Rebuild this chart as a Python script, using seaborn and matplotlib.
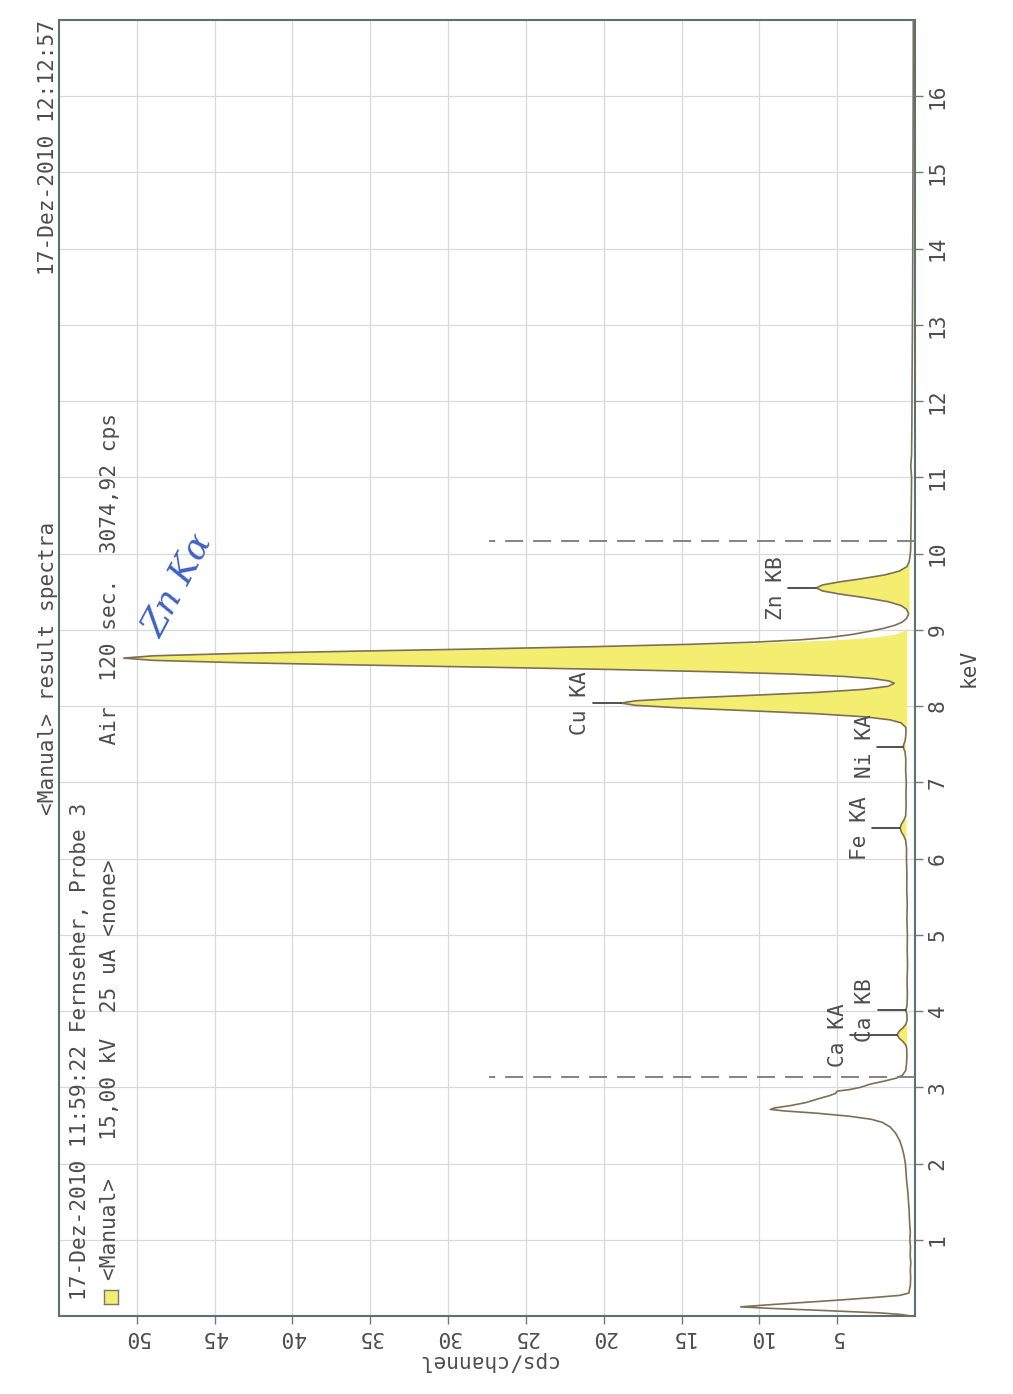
import numpy as np
import pandas as pd
import matplotlib
matplotlib.use("Agg")
import matplotlib.pyplot as plt
import seaborn as sns

# ---------------- data ----------------
# measured spectrum: energy (keV) and count rate (cps/channel)
spectrum_kev = [
    0.00, 0.02, 0.04, 0.07, 0.10, 0.12, 0.15, 0.18, 0.21, 0.24, 0.27, 0.30,
    0.40, 0.50, 0.60, 0.70, 0.80, 0.90, 1.00, 1.10, 1.20, 1.30, 1.40, 1.50,
    1.60, 1.70, 1.80, 1.90, 2.00, 2.10, 2.20, 2.30, 2.40, 2.48, 2.54, 2.58,
    2.62, 2.66, 2.69, 2.71, 2.73, 2.76, 2.80, 2.85, 2.89, 2.92, 2.95, 2.97,
    3.00, 3.04, 3.08, 3.12, 3.16, 3.22, 3.30, 3.40, 3.50, 3.55, 3.60, 3.64,
    3.69, 3.74, 3.78, 3.83, 3.88, 3.96, 4.01, 4.06, 4.20, 4.40, 4.60, 4.80,
    5.00, 5.20, 5.40, 5.60, 5.80, 6.00, 6.12, 6.24, 6.30, 6.35, 6.40, 6.45,
    6.50, 6.56, 6.70, 6.85, 7.00, 7.15, 7.30, 7.40, 7.44, 7.47, 7.50, 7.54,
    7.60, 7.66, 7.72, 7.78, 7.82, 7.86, 7.90, 7.94, 7.98, 8.01, 8.04, 8.07,
    8.10, 8.14, 8.18, 8.22, 8.26, 8.30, 8.33, 8.36, 8.39, 8.42, 8.45, 8.48,
    8.51, 8.54, 8.57, 8.60, 8.63, 8.66, 8.69, 8.72, 8.75, 8.78, 8.81, 8.84,
    8.87, 8.90, 8.94, 8.98, 9.02, 9.06, 9.10, 9.15, 9.21, 9.27, 9.32, 9.37,
    9.42, 9.47, 9.51, 9.55, 9.59, 9.63, 9.67, 9.72, 9.77, 9.83, 9.89, 9.95,
    10.05, 10.30, 10.60, 11.00, 11.15, 11.30, 11.70, 12.20, 12.80, 13.50,
    14.20, 15.00, 15.80, 16.50, 17.00,
]
spectrum_cps = [
    0.30, 0.90, 2.20, 5.60, 9.30, 11.20, 9.20, 7.00, 4.80, 2.80, 1.00, 0.40,
    0.30, 0.28, 0.30, 0.27, 0.31, 0.29, 0.33, 0.30, 0.34, 0.36, 0.38, 0.42,
    0.45, 0.50, 0.55, 0.58, 0.62, 0.70, 0.82, 0.98, 1.25, 1.60, 2.10, 2.80,
    4.20, 6.30, 8.40, 9.30, 9.00, 8.00, 7.00, 6.20, 5.50, 5.10, 5.00, 4.20,
    3.50, 2.90, 2.00, 1.20, 0.80, 0.60, 0.55, 0.52, 0.53, 0.58, 0.77, 1.00,
    1.15, 1.00, 0.77, 0.58, 0.51, 0.52, 0.60, 0.52, 0.49, 0.51, 0.48, 0.50,
    0.49, 0.52, 0.50, 0.53, 0.52, 0.55, 0.54, 0.60, 0.73, 0.88, 0.95, 0.88,
    0.73, 0.60, 0.57, 0.58, 0.56, 0.60, 0.59, 0.64, 0.72, 0.75, 0.72, 0.64,
    0.60, 0.58, 0.59, 0.89, 1.60, 3.25, 6.31, 10.71, 15.38, 17.95, 18.90, 17.95,
    15.38, 10.71, 6.31, 3.28, 1.73, 1.33, 1.67, 2.67, 4.62, 7.88, 12.77, 19.37,
    27.37, 35.86, 43.53, 48.92, 50.85, 48.94, 43.68, 36.21, 28.02, 20.64, 14.58, 10.20,
    7.34, 5.53, 4.03, 2.96, 2.02, 1.30, 0.84, 0.54, 0.41, 0.54, 0.90, 1.73,
    3.14, 4.84, 5.93, 6.35, 5.93, 4.84, 3.47, 1.97, 1.02, 0.52, 0.38, 0.33,
    0.28, 0.26, 0.24, 0.22, 0.27, 0.22, 0.20, 0.19, 0.17, 0.15,
    0.14, 0.13, 0.12, 0.11, 0.11,
]

# fitted element peaks (filled area) and the background they sit on
fit_kev = [
    3.46, 3.50, 3.55, 3.60, 3.64, 3.69, 3.74, 3.78, 3.83, 3.88, 3.92,
    6.20, 6.24, 6.30, 6.35, 6.40, 6.45, 6.50, 6.56, 6.60,
    7.37, 7.40, 7.44, 7.47, 7.50, 7.54, 7.57,
    7.66, 7.72, 7.78, 7.82, 7.86, 7.90, 7.94, 7.98, 8.01, 8.04, 8.07, 8.10,
    8.14, 8.18, 8.22, 8.26, 8.30, 8.33, 8.36, 8.39, 8.42, 8.45, 8.48, 8.51,
    8.54, 8.57, 8.60, 8.63, 8.66, 8.69, 8.72, 8.75, 8.78, 8.81, 8.84, 8.87,
    8.90, 8.94, 8.98, 9.02, 9.06,
    9.15, 9.21, 9.27, 9.32, 9.37, 9.42, 9.47, 9.51, 9.55, 9.59, 9.63, 9.67,
    9.72, 9.77, 9.83, 9.89, 9.95,
]
fit_cps = [
    0.50, 0.51, 0.58, 0.77, 1.00, 1.15, 1.00, 0.77, 0.58, 0.51, 0.50,
    0.55, 0.60, 0.73, 0.88, 0.95, 0.88, 0.73, 0.60, 0.55,
    0.60, 0.64, 0.72, 0.75, 0.72, 0.64, 0.60,
    0.50, 0.59, 0.89, 1.60, 3.25, 6.31, 10.71, 15.38, 17.95, 18.90, 17.95, 15.38,
    10.71, 6.31, 3.28, 1.73, 1.33, 1.67, 2.67, 4.62, 7.88, 12.77, 19.37, 27.37,
    35.86, 43.53, 48.92, 50.85, 48.82, 43.43, 35.76, 27.27, 19.27, 12.67, 7.78, 4.52,
    2.53, 1.21, 0.69, 0.52, 0.50,
    0.35, 0.38, 0.52, 0.90, 1.73, 3.14, 4.84, 5.93, 6.35, 5.93, 4.84, 3.47,
    1.97, 1.02, 0.52, 0.38, 0.35,
]
fit_base = (
    [0.50] * 11 + [0.55] * 9 + [0.60] * 7 + [0.50] * 41 + [0.35] * 17
)

# identified lines
peak_names = ["Ca KA", "Ca KB", "Fe KA", "Ni KA", "Cu KA", "Zn KB"]
peak_kev = [3.69, 4.01, 6.40, 7.47, 8.04, 9.55]
peak_cps = [1.15, 0.60, 0.95, 0.75, 18.90, 6.35]

# region of interest limits (keV) and their drawn height (cps)
roi_kev = [3.13, 10.16]
roi_height = 27.4

cps_ticks = [5, 10, 15, 20, 25, 30, 35, 40, 45, 50]
kev_ticks = list(range(1, 17))

header_date = "17-Dez-2010 12:12:57"
header_title = "<Manual> result spectra"
info_line1 = "17-Dez-2010 11:59:22 Fernseher, Probe 3"
info_line2 = "<Manual>   15,00 kV  25 uA <none>         Air  120 sec.  3074,92 cps"

# ---------------- style ----------------
sns.set_theme(style="white")
plt.rcParams["font.family"] = ["DejaVu Sans Mono", "DejaVu Sans"]
TXT = "#4d4d4d"
FONT = 15.2

W, H = 1013, 1394
fig = plt.figure(figsize=(W / 100, H / 100), dpi=100)
fig.patch.set_facecolor("white")

# axes box in pixels: left 59, right 915, top 20, bottom 1316
l, r, t, b = 59, 915, 20, 1316
ax = fig.add_axes([l / W, 1 - b / H, (r - l) / W, (b - t) / H])
ax.set_facecolor("white")

# the spectrum is laid out sideways: energy runs upward, counts grow leftward
ax.set_xlim(55.0, 0.0)
ax.set_ylim(0.0, 17.0)

ax.set_xticks(cps_ticks)
ax.set_yticks(kev_ticks)
ax.grid(True, color="#d9d9d9", lw=0.9, zorder=0)
ax.set_axisbelow(True)

# filled fit peaks
ax.fill_betweenx(fit_kev, fit_base, fit_cps,
                 where=[c > bb + 1e-6 for c, bb in zip(fit_cps, fit_base)],
                 interpolate=True, color="#f4ee70", lw=0, zorder=2)

# measured spectrum
spec = pd.DataFrame({"kev": spectrum_kev, "cps": spectrum_cps})
sns.lineplot(data=spec, x="cps", y="kev", orient="y", sort=False,
             estimator=None, color="#7d6f55", lw=1.2, ax=ax, zorder=3)

# ROI limits
for e in roi_kev:
    ax.plot([0, roi_height], [e, e], color="#7a7a7a", lw=1.3,
            linestyle=(0, (10, 5.5)), zorder=3)

# peak markers and labels
reach = [3.0, 1.8, 1.8, 1.7, 1.8, 1.8]
for name, e, c, rch in zip(peak_names, peak_kev, peak_cps, reach):
    ax.plot([c, c + rch], [e, e], color="#333333", lw=1.2, zorder=4)
    ax.text(c + rch + 0.15, e, name, rotation=90, ha="right", va="center",
            color=TXT, fontsize=FONT, zorder=5)

# frame and ticks
for sp in ax.spines.values():
    sp.set_color("#5d7073")
    sp.set_linewidth(1.5)
ax.yaxis.tick_right()
ax.yaxis.set_label_position("right")
ax.tick_params(axis="x", bottom=True, length=6, width=1, color="#777777",
               labelsize=FONT, labelcolor=TXT, labelrotation=180, pad=2)
ax.tick_params(axis="y", right=True, left=False, length=6, width=1,
               color="#777777", labelsize=FONT, labelcolor=TXT,
               labelrotation=90, pad=3)
for lbl in ax.get_yticklabels():
    lbl.set_va("center")
ax.set_xlabel("cps/channel", rotation=180, color=TXT, fontsize=FONT, labelpad=3)
ax.set_ylabel("keV", rotation=90, color=TXT, fontsize=FONT, labelpad=8)


def side_text(xp, yp, s, va="bottom", **kw):
    kw.setdefault("color", TXT)
    kw.setdefault("fontsize", FONT)
    fig.text(xp / W, 1 - yp / H, s, rotation=90, ha="center", va=va, **kw)


# header lines (written along the left edge)
side_text(48, 20, header_date, va="top")
side_text(48, (t + b) / 2, header_title, va="center")
side_text(80, 1300, info_line1)
side_text(110, 1280, info_line2)

# legend swatch for the fitted spectrum
ax_sw = fig.add_axes([104 / W, 1 - 1304 / H, 14 / W, 14 / H])
ax_sw.set_facecolor("#f4ee70")
ax_sw.set_xticks([])
ax_sw.set_yticks([])
for sp in ax_sw.spines.values():
    sp.set_color("#777777")
    sp.set_linewidth(1)

# handwritten note
fig.text(178 / W, 1 - 585 / H, "Zn Kα", rotation=62, ha="center", va="center",
         color="#3f62c4", fontsize=26, family="DejaVu Serif", style="italic")

fig.savefig("out.png", dpi=100)
